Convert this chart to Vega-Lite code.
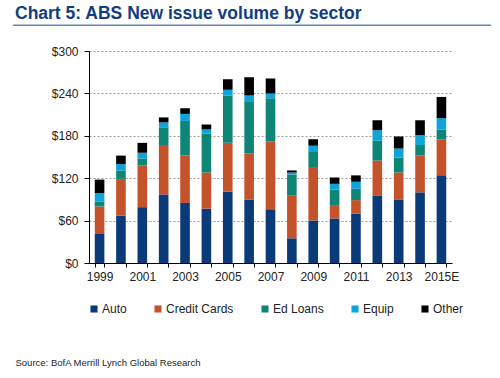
{
  "$schema": "https://vega.github.io/schema/vega-lite/v6.json",
  "background": "white",
  "padding": {"left": 12, "top": 5, "right": 6, "bottom": 4},
  "width": 363,
  "height": 212,
  "title": {"text": "Chart 5: ABS New issue volume by sector", "anchor": "start", "frame": "group", "fontSize": 17.5, "fontWeight": "bold", "font": "Liberation Sans", "color": "#123D82", "offset": 1.5, "dx": -74},
  "layer": [
    {
      "data": {"values": [
        {"year": "1999", "Auto": 41, "Credit Cards": 39, "Ed Loans": 7, "Equip": 12, "Other": 19},
        {"year": "2000", "Auto": 67, "Credit Cards": 52, "Ed Loans": 12, "Equip": 9, "Other": 12},
        {"year": "2001", "Auto": 79, "Credit Cards": 59, "Ed Loans": 10, "Equip": 8, "Other": 14},
        {"year": "2002", "Auto": 97, "Credit Cards": 70, "Ed Loans": 25, "Equip": 7, "Other": 7},
        {"year": "2003", "Auto": 85, "Credit Cards": 67, "Ed Loans": 49, "Equip": 10, "Other": 8},
        {"year": "2004", "Auto": 77, "Credit Cards": 51, "Ed Loans": 55, "Equip": 6, "Other": 7},
        {"year": "2005", "Auto": 101, "Credit Cards": 69, "Ed Loans": 67, "Equip": 8, "Other": 15},
        {"year": "2006", "Auto": 90, "Credit Cards": 65, "Ed Loans": 73, "Equip": 9, "Other": 26},
        {"year": "2007", "Auto": 76, "Credit Cards": 96, "Ed Loans": 61, "Equip": 7, "Other": 21},
        {"year": "2008", "Auto": 35, "Credit Cards": 61, "Ed Loans": 29, "Equip": 3, "Other": 3},
        {"year": "2009", "Auto": 60, "Credit Cards": 76, "Ed Loans": 21, "Equip": 9, "Other": 9},
        {"year": "2010", "Auto": 63, "Credit Cards": 19, "Ed Loans": 22, "Equip": 8, "Other": 9},
        {"year": "2011", "Auto": 70, "Credit Cards": 19, "Ed Loans": 16, "Equip": 10, "Other": 9},
        {"year": "2012", "Auto": 95, "Credit Cards": 50, "Ed Loans": 28, "Equip": 15, "Other": 14},
        {"year": "2013", "Auto": 90, "Credit Cards": 38, "Ed Loans": 21, "Equip": 13, "Other": 17},
        {"year": "2014", "Auto": 100, "Credit Cards": 52, "Ed Loans": 15, "Equip": 14, "Other": 21},
        {"year": "2015E", "Auto": 124, "Credit Cards": 51, "Ed Loans": 14, "Equip": 16, "Other": 30}
      ]},
      "transform": [{"fold": ["Auto", "Credit Cards", "Ed Loans", "Equip", "Other"], "as": ["sector", "value"]}],
      "mark": {"type": "bar"},
      "encoding": {
        "x": {
          "field": "year", "type": "ordinal",
          "scale": {"paddingInner": 0.55, "paddingOuter": 0.27},
          "axis": {
            "title": "Source: BofA Merrill Lynch Global Research",
            "titleX": -74, "titleY": 99, "titleAlign": "left", "titleBaseline": "middle",
            "titleFontSize": 9.5, "titleFontWeight": "normal", "titleFont": "Liberation Sans", "titleColor": "#222222",
            "labelAngle": 0,
            "labelExpr": "indexof(['1999','2001','2003','2005','2007','2009','2011','2013','2015E'], datum.value) >= 0 ? datum.value : ''",
            "tickBand": "extent", "tickSize": 4, "domainColor": "#000000", "tickColor": "#000000",
            "labelFontSize": 12, "labelFont": "Liberation Sans", "labelColor": "#222222", "labelPadding": 4, "grid": false
          }
        },
        "y": {
          "field": "value", "type": "quantitative", "stack": "zero",
          "scale": {"domain": [0, 300]},
          "axis": {
            "title": null, "values": [0, 60, 120, 180, 240, 300],
            "labelExpr": "'$' + datum.value",
            "grid": true, "gridDash": [2, 2], "gridColor": "#9a9a9a",
            "domainColor": "#000000", "tickColor": "#000000", "tickSize": 5,
            "labelFontSize": 12, "labelFont": "Liberation Sans", "labelColor": "#222222", "labelPadding": 6
          }
        },
        "order": {"field": "sector", "type": "nominal", "sort": "ascending"},
        "color": {
          "field": "sector", "type": "nominal",
          "scale": {"domain": ["Auto", "Credit Cards", "Ed Loans", "Equip", "Other"], "range": ["#0B3A78", "#C4532B", "#0E8577", "#10A3D9", "#000000"]},
          "legend": {
            "orient": "none", "legendX": -1, "legendY": 252, "direction": "horizontal", "title": null,
            "symbolType": "square", "symbolSize": 50, "symbolStrokeWidth": 0,
            "labelFontSize": 12, "labelFont": "Liberation Sans", "labelColor": "#222222",
            "columnPadding": 25, "labelOffset": 2
          }
        }
      }
    },
    {
      "data": {"values": [{}]},
      "mark": {"type": "rule", "clip": false, "color": "#6585BD", "strokeWidth": 1.5},
      "encoding": {
        "x": {"datum": -0.209, "type": "quantitative", "scale": {"domain": [0, 1]}, "axis": null},
        "x2": {"datum": 1.107},
        "y": {"datum": 336.5, "type": "quantitative", "scale": {"domain": [0, 300]}}
      }
    }
  ],
  "resolve": {"scale": {"x": "independent"}, "axis": {"x": "independent"}},
  "config": {"view": {"stroke": null}}
}
